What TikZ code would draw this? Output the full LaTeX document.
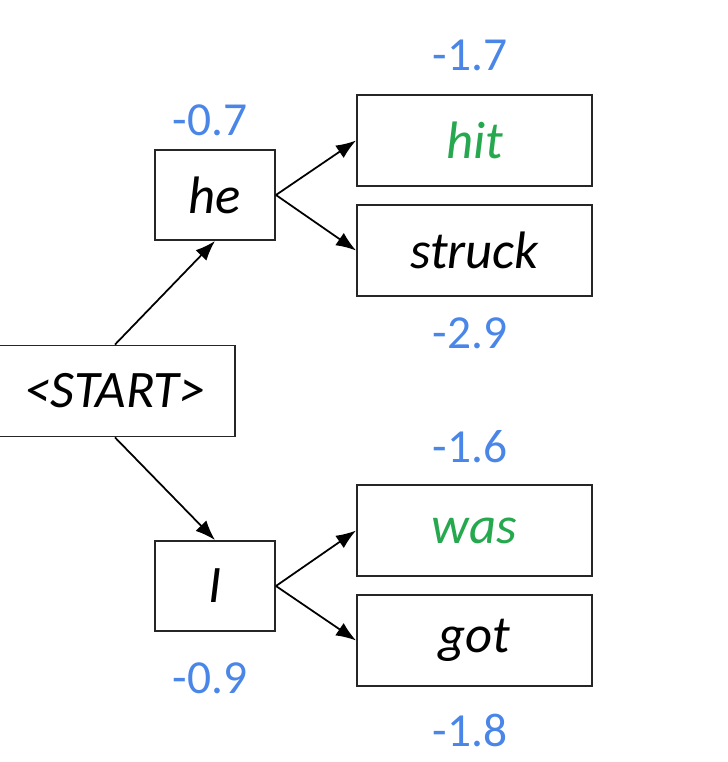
\documentclass[tikz,border=0pt]{standalone}
\usepackage{fontspec}
\setmainfont{Carlito}
\usetikzlibrary{arrows.meta,positioning}
\definecolor{scoreblue}{RGB}{74,134,232}
\definecolor{bestgreen}{RGB}{38,168,78}
\tikzset{
  box/.style={draw=black!85, line width=1.1pt, align=center, inner sep=0pt, font=\fontsize{30}{34}\selectfont\itshape},
  word/.style={box, minimum width=2.4cm, minimum height=1.8cm},
  next/.style={box, minimum width=4.7cm, minimum height=1.82cm},
  score/.style={text=scoreblue, font=\fontsize{27}{30}\selectfont},
  arrow/.style={-{Latex[length=4mm,width=3mm]}, line width=1pt},
}

\begin{document}
\begin{tikzpicture}[x=0.02cm, y=-0.02cm]
  \useasboundingbox (0,0) rectangle (728,762);
  % Tree
  \node[box, minimum width=4.8cm, minimum height=1.82cm] (start) at (115,391) {<START>};
  \node[word] (he) at (215,195) {he};
  \node[word] (i) at (215,586) {I};
  \node[next, text=bestgreen] (hit) at (474.5,140.5) {hit};
  \node[next] (struck) at (474.5,250.5) {struck};
  \node[next, text=bestgreen] (was) at (474.5,530.5) {was};
  \node[next] (got) at (474.5,640.5) {got};

  % Scores
  \node[score] (shit) at (470,55) {-1.7};
  \node[score] (she) at (210,120) {-0.7};
  \node[score] (sstruck) at (470,333) {-2.9};
  \node[score] (swas) at (470,447) {-1.6};
  \node[score] (si) at (210,678) {-0.9};
  \node[score] (sgot) at (470,730) {-1.8};

  % Arrows
  \draw[arrow] (start.north) -- (he.south);
  \draw[arrow] (start.south) -- (i.north);
  \draw[arrow] (he.east) -- (hit.west);
  \draw[arrow] (he.east) -- (struck.west);
  \draw[arrow] (i.east) -- (was.west);
  \draw[arrow] (i.east) -- (got.west);
\end{tikzpicture}
\end{document}
